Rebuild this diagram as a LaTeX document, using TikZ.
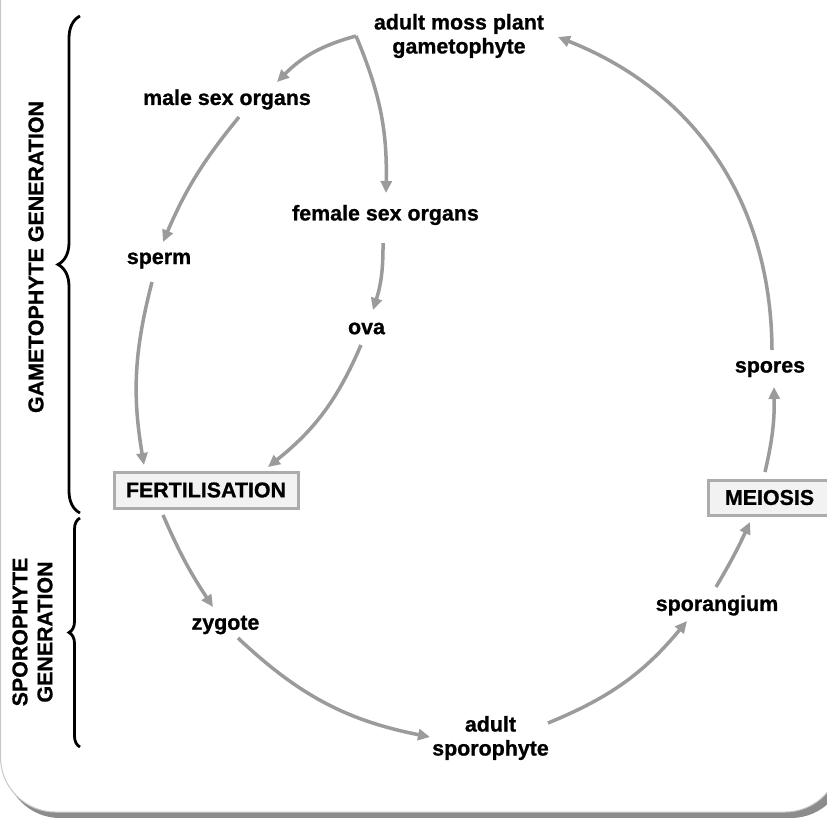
\documentclass[tikz,border=0pt]{standalone}
\usepackage{fontspec}
\setmainfont{Liberation Sans}[BoldFeatures={FakeBold=0.9}]
\usetikzlibrary{arrows.meta,decorations.pathreplacing}
\definecolor{arrowgray}{RGB}{155,155,155}
\definecolor{boxline}{RGB}{172,172,172}
\definecolor{boxfill}{RGB}{242,242,242}
\definecolor{frameline}{RGB}{200,200,200}
\definecolor{frameshadow}{RGB}{140,140,140}
\begin{document}
\begin{tikzpicture}[x=1pt,y=-1pt,
  lbl/.style={inner sep=0pt, font=\bfseries\fontsize{21.4}{24}\selectfont, align=center},
  stagebox/.style={lbl, draw=boxline, fill=boxfill, line width=3pt},
  flow/.style={draw=arrowgray, line width=3.5pt, -{Triangle[length=12pt,width=11pt]}},
  genbrace/.style={draw=black, line width=2.8pt, decorate},
]
\useasboundingbox (0,0) rectangle (827,817);
% frame with shadow
\fill[frameshadow, rounded corners=55pt] (5,-60) rectangle (846,818);
\filldraw[fill=white, draw=frameline, line width=1pt, rounded corners=55pt] (0.5,-60) rectangle (840,812);

% braces
\draw[genbrace, decoration={brace, amplitude=22pt}] (80,513) -- (80,16);
\draw[genbrace, decoration={brace, amplitude=11pt}] (80,747) -- (80,518);

% generation labels
\node[lbl, rotate=90] (gametolbl) at (36,257) {GAMETOPHYTE GENERATION};
\node[lbl, rotate=90, font=\bfseries\fontsize{21.4}{25}\selectfont] (sporolbl) at (32.5,632) {SPOROPHYTE\\GENERATION};

% stage nodes
\node[lbl] (moss) at (459,36) {adult moss plant\\gametophyte};
\node[lbl] (male) at (227,99.5) {male sex organs};
\node[lbl] (female) at (385.5,215) {female sex organs};
\node[lbl] (sperm) at (159,260.5) {sperm};
\node[lbl] (ova) at (366.5,328.5) {ova};
\node[stagebox, minimum width=184pt, minimum height=36pt] (fert) at (206,490) {FERTILISATION};
\node[lbl] (zygote) at (225.5,625) {zygote};
\node[lbl] (adultsp) at (490.5,738) {adult\\sporophyte};
\node[lbl] (sporang) at (717,605.5) {sporangium};
\node[stagebox, minimum width=123pt, minimum height=35pt] (meiosis) at (769.5,497.5) {MEIOSIS};
\node[lbl] (spores) at (770,369) {spores};

% connectors
\draw[flow] ([shift={(-103,0)}]moss.center) to[bend right=15] ([shift={(50,-17.5)}]male.center);
\draw[flow] ([shift={(-103,0)}]moss.center) to[bend left=12] ([shift={(0.5,-22)}]female.center);
\draw[flow] ([shift={(12,17.5)}]male.center) to[bend right=8] ([shift={(4,-18.5)}]sperm.center);
\draw[flow] ([shift={(-7,21.5)}]sperm.center) to[bend right=12] ([shift={(-62,-25)}]fert.center);
\draw[flow] ([shift={(-2.5,28)}]female.center) to[bend left=9] ([shift={(6.5,-18.5)}]ova.center);
\draw[flow] ([shift={(-5.5,16.5)}]ova.center) to[bend left=14] ([shift={(62,-23)}]fert.center);
\draw[flow] ([shift={(-43,25)}]fert.center) to[bend right=5] ([shift={(-12.5,-18)}]zygote.center);
\draw[flow] ([shift={(12.5,13)}]zygote.center) to[bend right=16] ([shift={(-60.5,-1)}]adultsp.center);
\draw[flow] ([shift={(57.5,-15)}]adultsp.center) to[bend right=14] ([shift={(-30,15.5)}]sporang.center);
\draw[flow] ([shift={(-1,-18.5)}]sporang.center) to[bend right=3] ([shift={(-19.5,24.5)}]meiosis.center);
\draw[flow] ([shift={(-4.5,-25.5)}]meiosis.center) to[bend right=7] ([shift={(4,18)}]spores.center);
\draw[flow] ([shift={(2,-19)}]spores.center) to[bend right=34] ([shift={(99,1)}]moss.center);
\end{tikzpicture}
\end{document}
